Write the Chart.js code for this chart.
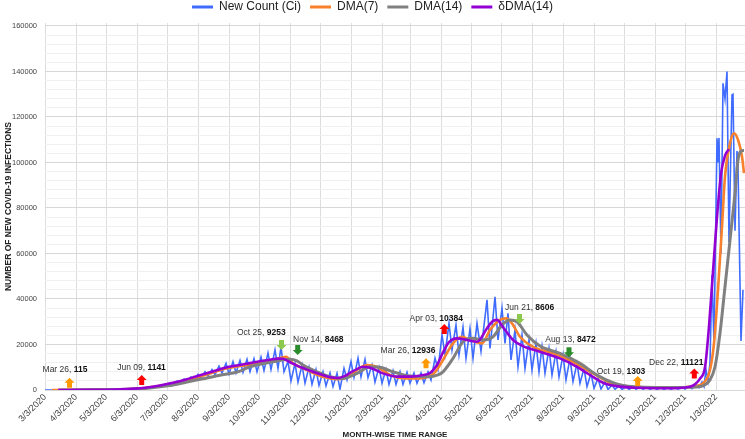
<!DOCTYPE html>
<html>
<head>
<meta charset="utf-8">
<script src="https://cdn.jsdelivr.net/npm/chart.js@4.4.0/dist/chart.umd.min.js"></script>
<style>
  html, body { margin: 0; padding: 0; background: #fff; }
  #wrap { width: 745px; height: 439px; }
</style>
</head>
<body>
<div id="wrap"><canvas id="chart"></canvas></div>
<script>
// day 0 = 3/3/2020, one unit per day
const START = new Date(2020, 2, 3);

const monthTicks = ['3/3/2020', '4/3/2020', '5/3/2020', '6/3/2020', '7/3/2020', '8/3/2020',
  '9/3/2020', '10/3/2020', '11/3/2020', '12/3/2020', '1/3/2021', '2/3/2021', '3/3/2021',
  '4/3/2021', '5/3/2021', '6/3/2021', '7/3/2021', '8/3/2021', '9/3/2021', '10/3/2021',
  '11/3/2021', '12/3/2021', '1/3/2022'];

// New Count (Ci) - daily new cases (vertices of the weekly zigzag)
const newCountDays = [0, 8, 16, 24, 32, 40, 48, 56, 64, 72, 80, 88, 94,
  100, 104, 107, 111, 114, 118, 121, 125, 128, 132, 135, 139, 142, 146, 149, 153, 156, 160,
  163, 167, 170, 174, 177, 181, 184, 188, 191, 195, 198, 202, 205, 209, 212, 216, 219, 223,
  226, 230, 233, 236, 239, 243, 246, 250, 253, 257, 260, 264, 267, 271, 274, 278, 281, 285,
  288, 292, 295, 299, 302, 306, 309, 313, 316, 320, 323, 327, 330, 334, 337, 341, 344, 348,
  351, 355, 358, 362, 365, 369, 372, 376, 379, 383, 386, 390, 393, 397, 400, 404, 407, 411,
  414, 418, 421, 425, 428, 432, 436, 442, 445, 450, 453, 457, 460, 463, 466, 470, 473, 477,
  480, 484, 487, 491, 494, 497, 500, 504, 507, 511, 514, 518, 521, 525, 528, 532, 535, 539,
  542, 546, 549, 553, 556, 560, 563, 567, 570, 574, 577, 581, 584, 588, 591, 595, 598, 602,
  605, 609, 612, 616, 619, 623, 626, 630, 633, 637, 640, 644, 647, 651, 654, 657, 659, 661,
  663, 665, 667, 669, 672, 673, 674, 676, 678, 680, 682, 684, 687, 688, 690, 692, 693, 696, 698];
const newCountValues = [0, 20, 60, 110, 150, 200, 230, 260, 280, 320, 400, 600, 800,
  700, 1300, 1000, 1800, 1400, 2400, 1900, 3200, 2500, 3900, 3200, 4800, 3800, 5800, 4500, 6900, 5200, 8000,
  6000, 9000, 6800, 10500, 7500, 11700, 7000, 12500, 7500, 13000, 7800, 13500, 8000, 13800, 8000, 14500, 8500, 16300,
  9000, 17600, 9500, 19000, 8000, 12500, 4000, 11700, 3500, 11000, 3000, 10000, 2500, 9000, 2000, 8000, 1800, 7500,
  1500, 7300, 400, 9500, 4500, 12500, 5500, 14000, 5800, 13500, 5500, 11000, 3500, 10000, 3000, 9000, 2500, 8500,
  2500, 8000, 2500, 7800, 3000, 7500, 3000, 7500, 3200, 8000, 4400, 14000, 9000, 24200, 15400, 29300, 17600, 28600,
  15400, 27600, 13900, 27000, 13900, 29300, 17000, 39600, 18300, 41000, 22000, 35900, 20500, 33700, 13200, 26400, 10200, 24200,
  9500, 22000, 8800, 20500, 8000, 19000, 7300, 18300, 6600, 16800, 5800, 15400, 4400, 13900, 3700, 11700, 2900, 9500,
  1500, 7300, 750, 5100, 400, 3650, 200, 2200, 300, 1800, 200, 1600, 200, 1400, 300, 1300, 300, 1200,
  300, 1200, 300, 1100, 300, 1100, 300, 1100, 400, 1200, 400, 1400, 600, 2200, 1000, 3500, 1500, 9000,
  4000, 12000, 50500, 20500, 110600, 100000, 110800, 60000, 134800, 128000, 140000, 65000, 129700, 130000, 70000, 105000, 98000, 21500, 44000];

// DMA(7)
const dma7Days = [7, 20, 35, 50, 65, 80, 90, 100, 115, 128, 140, 150, 165, 180, 195, 205, 215, 228, 236, 241,
  248, 262, 278, 292, 302, 312, 322, 332, 345, 362, 375, 385, 390, 398, 408, 417, 425, 437, 445, 455,
  461, 467, 475, 488, 508, 528, 548, 568, 580, 595, 620, 640, 650, 658, 665, 669, 673, 677, 680, 685,
  689, 693, 697, 699];
const dma7Values = [0, 40, 100, 170, 240, 350, 550, 850, 1800, 2900, 4000, 5300, 7300, 9300, 10600, 11000, 12000, 13200, 14200, 14600,
  11700, 8800, 5800, 4800, 5500, 8800, 11000, 10200, 6600, 5100, 5100, 6200, 7800, 13200, 20500, 23400, 22000, 20500, 26400, 30800,
  31500, 29300, 23400, 19000, 16100, 12400, 7300, 2600, 1600, 1200, 1000, 1200, 1700, 2900, 8800, 20600, 44000, 71800, 93800, 108400,
  112800, 110000, 102600, 95300];

// DMA(14)
const dma14Days = [14, 30, 50, 70, 90, 100, 115, 128, 140, 150, 162, 175, 188, 195, 205, 228, 245, 252, 258, 272,
  285, 298, 312, 325, 335, 348, 365, 385, 392, 398, 408, 418, 428, 438, 448, 457, 465, 472, 482, 495,
  515, 535, 552, 568, 578, 590, 610, 630, 645, 655, 665, 670, 675, 680, 685, 690, 693, 697, 699];
const dma14Values = [0, 50, 120, 200, 400, 700, 1400, 2200, 3300, 4300, 5300, 6500, 7500, 8300, 10200, 12400, 13500, 12800, 11000, 8000,
  5800, 5100, 7300, 10200, 10000, 8000, 6150, 5800, 6500, 8000, 13900, 21200, 22700, 22000, 23400, 28600, 30800, 30000, 24200, 19300,
  16100, 11700, 6600, 3200, 2000, 1400, 1100, 1100, 1200, 1500, 4400, 10200, 25000, 45400, 65900, 86500, 101100, 105200, 105300];

// δDMA(14)
const ddma14Days = [13, 40, 70, 90, 100, 115, 128, 140, 150, 165, 180, 195, 205, 215, 225, 233, 238, 245, 252, 260,
  268, 276, 285, 293, 300, 305, 312, 318, 325, 338, 352, 365, 378, 385, 392, 398, 404, 412, 422, 432,
  442, 447, 452, 458, 468, 478, 495, 515, 532, 540, 548, 558, 565, 575, 590, 610, 630, 645, 650, 655,
  660, 664, 668, 672, 676, 680, 684];
const ddma14Values = [0, 100, 250, 600, 1000, 2000, 3200, 4500, 5800, 7800, 9800, 11000, 11800, 12600, 13300, 13800, 13700, 12200, 10700, 9300,
  8000, 6800, 5600, 5300, 6200, 7500, 9200, 10200, 9800, 7300, 5900, 5900, 6600, 7500, 11000, 16500, 21000, 22700, 22000, 21200,
  27100, 30000, 30800, 27600, 22000, 19300, 16800, 13900, 10200, 8000, 5800, 3200, 2200, 1500, 1000, 800, 800, 1400, 2500, 5000,
  10000, 28000, 52000, 76000, 95000, 103000, 105800];

// turning-point annotations
const noteDates = ['Mar 26', 'Jun 09', 'Oct 25', 'Nov 14', 'Mar 26', 'Apr 03', 'Jun 21', 'Aug 13', 'Oct 19', 'Dec 22'];
const noteNumbers = ['115', '1141', '9253', '8468', '12936', '10384', '8606', '8472', '1303', '11121'];
const noteUp = [true, true, false, false, true, true, false, false, true, true];
const noteColors = ['#ff9900', '#ff0000', '#8cc84b', '#2b8c2b', '#ff9900', '#ff0000', '#8cc84b', '#2b8c2b', '#ff9900', '#ff0000'];
const noteArrowDays = [24.5, 96.7, 236.5, 252.7, 381, 399.3, 474.5, 524, 592.7, 649.3];
const noteArrowValues = [5400, 6600, 17600, 15400, 13900, 29000, 29000, 14400, 6150, 9500];
const noteLabelDays = [20, 96.5, 216.3, 273.3, 363, 391.3, 484.7, 525.5, 576, 631.3];
const noteLabelValues = [9100, 9900, 25100, 22000, 17300, 31500, 36400, 22000, 8050, 12000];

const Y_MAX = 161300; // 160000 gridline sits a little below the plot top
const yGrid = Array.from({ length: 41 }, (_, i) => i * 4000);

function dayOf(label) {
  const [m, d, y] = label.split('/').map(Number);
  return Math.round((new Date(y, m - 1, d) - START) / 86400000);
}
function points(days, values) {
  return days.map((d, i) => ({ x: d, y: values[i] }));
}

Chart.defaults.font.family = '"Liberation Sans", Arial, sans-serif';

const notesPlugin = {
  id: 'notes',
  afterDatasetsDraw(chart) {
    const { ctx, scales: { x, y } } = chart;
    ctx.save();
    noteDates.forEach((date, i) => {
      const ax = x.getPixelForValue(noteArrowDays[i]);
      const ay = y.getPixelForValue(noteArrowValues[i]);
      const dir = noteUp[i] ? 1 : -1;
      ctx.fillStyle = noteColors[i];
      ctx.beginPath();
      ctx.moveTo(ax, ay);
      ctx.lineTo(ax - 5, ay + 5 * dir);
      ctx.lineTo(ax - 2.5, ay + 5 * dir);
      ctx.lineTo(ax - 2.5, ay + 10 * dir);
      ctx.lineTo(ax + 2.5, ay + 10 * dir);
      ctx.lineTo(ax + 2.5, ay + 5 * dir);
      ctx.lineTo(ax + 5, ay + 5 * dir);
      ctx.closePath();
      ctx.fill();

      const lx = x.getPixelForValue(noteLabelDays[i]);
      const ly = y.getPixelForValue(noteLabelValues[i]);
      const head = date + ', ';
      ctx.textBaseline = 'middle';
      ctx.textAlign = 'left';
      ctx.font = '8.5px "Liberation Sans", Arial, sans-serif';
      const w1 = ctx.measureText(head).width;
      ctx.font = 'bold 8.5px "Liberation Sans", Arial, sans-serif';
      const w2 = ctx.measureText(noteNumbers[i]).width;
      const sx = lx - (w1 + w2) / 2;
      ctx.font = '8.5px "Liberation Sans", Arial, sans-serif';
      ctx.fillStyle = '#333';
      ctx.fillText(head, sx, ly);
      ctx.font = 'bold 8.5px "Liberation Sans", Arial, sans-serif';
      ctx.fillStyle = '#111';
      ctx.fillText(noteNumbers[i], sx + w1, ly);
    });
    ctx.restore();
  }
};

new Chart(document.getElementById('chart'), {
  type: 'line',
  data: {
    datasets: [
      { label: 'New Count (Ci)', data: points(newCountDays, newCountValues), borderColor: '#3f6cff', backgroundColor: '#3f6cff',
        borderWidth: 1.6, pointRadius: 0, tension: 0, order: 4 },
      { label: 'DMA(7)', data: points(dma7Days, dma7Values), borderColor: '#f7812d', backgroundColor: '#f7812d',
        borderWidth: 2.6, pointRadius: 0, cubicInterpolationMode: 'monotone', order: 3 },
      { label: 'DMA(14)', data: points(dma14Days, dma14Values), borderColor: '#808080', backgroundColor: '#808080',
        borderWidth: 3, pointRadius: 0, cubicInterpolationMode: 'monotone', order: 2 },
      { label: 'δDMA(14)', data: points(ddma14Days, ddma14Values), borderColor: '#9400d3', backgroundColor: '#9400d3',
        borderWidth: 2.6, pointRadius: 0, cubicInterpolationMode: 'monotone', order: 1 }
    ]
  },
  options: {
    responsive: true,
    maintainAspectRatio: false,
    animation: false,
    layout: { padding: { top: -8, right: 0, left: 0, bottom: 0 } },
    plugins: {
      tooltip: { enabled: false },
      legend: {
        position: 'top',
        labels: {
          boxWidth: 21,
          boxHeight: 3,
          padding: 9,
          color: '#222',
          font: { size: 12 },
          sort: (a, b) => a.datasetIndex - b.datasetIndex,
          generateLabels(chart) {
            const items = Chart.defaults.plugins.legend.labels.generateLabels(chart);
            items.forEach(it => { it.lineWidth = 0; });
            return items;
          }
        }
      }
    },
    scales: {
      x: {
        type: 'linear',
        min: 0,
        max: 700,
        afterFit: s => { s.height = 49; },
        afterBuildTicks: s => { s.ticks = monthTicks.map(l => ({ value: dayOf(l) })); },
        ticks: {
          autoSkip: false,
          minRotation: 45,
          maxRotation: 45,
          padding: 2,
          color: '#444',
          font: { size: 9 },
          callback: (v, i) => monthTicks[i]
        },
        grid: { color: '#dddddd', drawTicks: false },
        border: { display: false },
        title: { display: true, text: 'MONTH-WISE TIME RANGE', color: '#222',
          font: { size: 8, weight: 'bold' }, padding: { top: 0, bottom: -1 } }
      },
      y: {
        min: 0,
        max: Y_MAX,
        afterFit: s => { s.width = 45; },
        afterBuildTicks: s => { s.ticks = yGrid.map(v => ({ value: v })); },
        ticks: {
          autoSkip: false,
          padding: 8,
          color: '#444',
          font: { size: 7.5 },
          callback: v => (v % 20000 === 0 ? String(v) : '')
        },
        grid: {
          drawTicks: false,
          color: c => (c.tick.value % 20000 === 0 ? '#d8d8d8' : '#f0f0f0')
        },
        border: { display: false },
        title: { display: true, text: 'NUMBER OF NEW COVID-19 INFECTIONS', color: '#222',
          font: { size: 8.5, weight: 'bold' }, padding: { top: 3.5, bottom: 0 } }
      }
    }
  },
  plugins: [notesPlugin]
});
</script>
</body>
</html>
